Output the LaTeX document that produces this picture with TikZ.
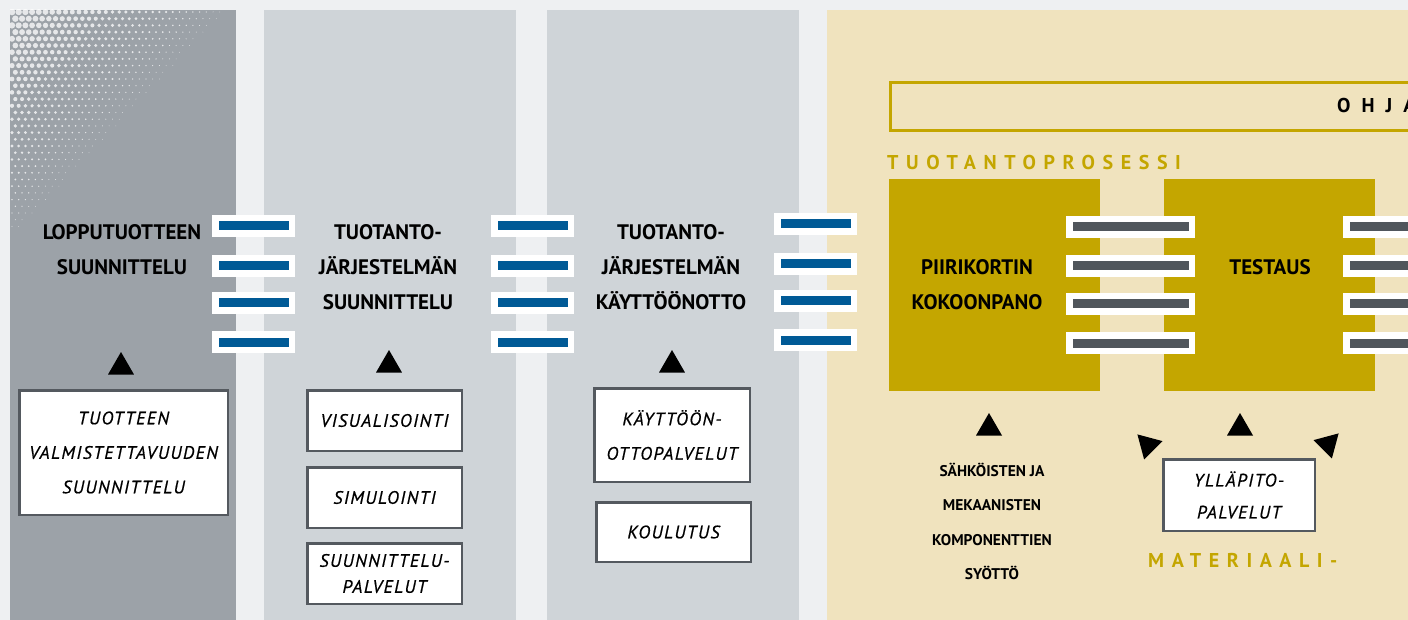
\documentclass[tikz,border=0pt]{standalone}
\usepackage{fontspec}
\setmainfont{PT Sans}
\newfontfamily\spacedfont[LetterSpace=38]{PT Sans}
\newfontfamily\ohjafont[LetterSpace=55]{PT Sans}
\newfontfamily\svcfont[LetterSpace=8, FakeBold=0.6]{PT Sans}
\usetikzlibrary{shapes.geometric}
\definecolor{pagebg}{HTML}{EEF0F2}
\definecolor{colgray}{HTML}{9CA2A8}
\definecolor{collight}{HTML}{CFD4D8}
\definecolor{beige}{HTML}{F0E3BE}
\definecolor{gold}{HTML}{C4A600}
\definecolor{busblue}{HTML}{005A96}
\definecolor{busgray}{HTML}{50565C}
\definecolor{frame}{HTML}{54595F}

\begin{document}
\begin{tikzpicture}[x=1pt, y=-1pt,
      column/.style={rectangle, anchor=north west, inner sep=0pt,
      minimum height=615pt}, stage/.style={rectangle, fill=gold, inner
      sep=0pt, minimum width=211pt, minimum height=212pt},
      pinblue/.style={rectangle, draw=white, line width=6.5pt, fill=busblue,
      inner sep=0pt, minimum width=76.5pt, minimum height=15.5pt},
      pingray/.style={pinblue, fill=busgray, minimum width=122.5pt},
      svcbox/.style={rectangle, draw=frame, line width=2.5pt, fill=white,
      inner sep=0pt, align=center,
      font=\svcfont\itshape\fontsize{18pt}{34.5pt}\selectfont},
      title/.style={align=center, inner sep=0pt, anchor=north,
      font=\fontsize{21pt}{35pt}\selectfont\bfseries},
      spaced/.style={inner sep=0pt, anchor=base west, text=gold,
      font=\spacedfont\bfseries\fontsize{20pt}{24pt}\selectfont},
      tri/.style={regular polygon, regular polygon sides=3, fill=black,
      inner sep=0pt, minimum size=30pt},
      dot/.style={white, opacity=0.75} ]
    \useasboundingbox (0,0) rectangle (1408,620);
    \clip (0,0) rectangle (1408,620);
    \fill[pagebg] (0,0) rectangle (1408,620);

    % Columns
    \node[column, fill=colgray, minimum width=226pt] (design) at (10,10) {};
    \node[column, fill=collight, minimum width=252pt] (plan) at (264,10) {};
    \node[column, fill=collight, minimum width=252pt] (deploy) at (547,10) {};
    \node[column, fill=beige, minimum width=600pt] (prod) at (827,10) {};

    % Halftone dots
    \begin{scope}
      \clip (10,10) rectangle (236,270);
      \foreach \i in {0,...,33}{\foreach \j in {0,...,38}{
        \pgfmathsetmacro{\dx}{12+6.7*\i+3.35*mod(\j,2)}
        \pgfmathsetmacro{\dy}{12+6.7*\j}
        \pgfmathsetmacro{\dr}{3.4*(1-(\dx-10)/240-(\dy-10)/255)}
        \ifdim\dr pt>0.35pt \fill[dot] (\dx,\dy) circle (\dr pt); \fi }}
    \end{scope}

    % Column titles
    \node[title] (designtitle) at (122,224) {LOPPUTUOTTEEN\\SUUNNITTELU};
    \node[title] (plantitle) at (388,224) {TUOTANTO-\\J\"ARJESTELM\"AN\\SUUNNITTELU};
    \node[title] (deploytitle) at (671,224) {TUOTANTO-\\J\"ARJESTELM\"AN\\K\"AYTT\"O\"ONOTTO};

    % Production process
    \node[draw=gold, line width=3pt, minimum width=540pt, minimum height=48pt,
    anchor=north west, inner sep=0pt] (ohjabox) at (888.5,81.5) {};
    \node[spaced, text=black, font=\ohjafont\bfseries\fontsize{20pt}{24pt}\selectfont]
    (ohja) at (1337,113) {OHJA};
    \node[spaced] (prosessi) at (887,170) {TUOTANTOPROSESSI};
    \node[stage] (assembly) at (994.5,285) {}; \node[stage] (testing) at
    (1269.5,285) {};
    \node[title] (assemblytitle) at (977,259) {PIIRIKORTIN\\KOKOONPANO};
    \node[title] (testingtitle) at (1270,259) {TESTAUS};

    % Buses between columns
    \foreach \y [count=\k] in {226,266,303,342}{
      \node[pinblue] (pa\k) at (253.5,\y) {};
      \node[pinblue] (pb\k) at (532.5,\y) {}; }
    \foreach \y [count=\k] in {224,264,301,340}
      \node[pinblue] (pc\k) at (815.5,\y) {};
    \foreach \y [count=\k] in {227,266,304,343}{
      \node[pingray] (pd\k) at (1130.5,\y) {};
      \node[pingray] (pe\k) at (1407.5,\y) {}; }

    % Service boxes
    \node[svcbox, minimum width=208.5pt, minimum height=124.5pt] (product) at
    (123.5,452.5) {TUOTTEEN\\VALMISTETTAVUUDEN\\SUUNNITTELU};
    \node[svcbox, minimum width=154.5pt, minimum height=60.5pt] (visual) at
    (384.5,420.5) {VISUALISOINTI};
    \node[svcbox, minimum width=154.5pt, minimum height=60.5pt] (simul) at
    (384.5,497.5) {SIMULOINTI};
    \node[svcbox, minimum width=154.5pt, minimum height=60.5pt,
    font=\svcfont\itshape\fontsize{18pt}{26pt}\selectfont] (planserv) at
    (384.5,573.5) {SUUNNITTELU-\\PALVELUT};
    \node[svcbox, minimum width=155.5pt, minimum height=93.5pt] (deployserv)
    at (672,435) {K\"AYTT\"O\"ON-\\OTTOPALVELUT};
    \node[svcbox, minimum width=154.5pt, minimum height=59.5pt] (training) at
    (673.5,532) {KOULUTUS};
    \node[svcbox, minimum width=151.5pt, minimum height=71.5pt,
    font=\svcfont\itshape\fontsize{18pt}{32pt}\selectfont] (maint) at
    (1239,495) {YLL\"APITO-\\PALVELUT};

    % Components and material
    \node[title, font=\fontsize{15.5pt}{34.5pt}\selectfont\bfseries] (feed) at
    (992,463) {S\"AHK\"OISTEN JA\\MEKAANISTEN\\KOMPONENTTIEN\\SY\"OTT\"O};
    \node[spaced] (material) at (1148,567) {MATERIAALI-};

    % Triangles
    \node[tri] (tdesign) at (121,367) {}; \node[tri] (tplan) at (389,365) {};
    \node[tri] (tdeploy) at (672,365) {}; \node[tri] (tassembly) at (989,428)
    {}; \node[tri] (ttesting) at (1240,428) {};
    \node[tri, rotate=45] (tleft) at (1148,445) {}; \node[tri, rotate=-45]
    (tright) at (1328,444) {};

    \end{tikzpicture}
\end{document}
